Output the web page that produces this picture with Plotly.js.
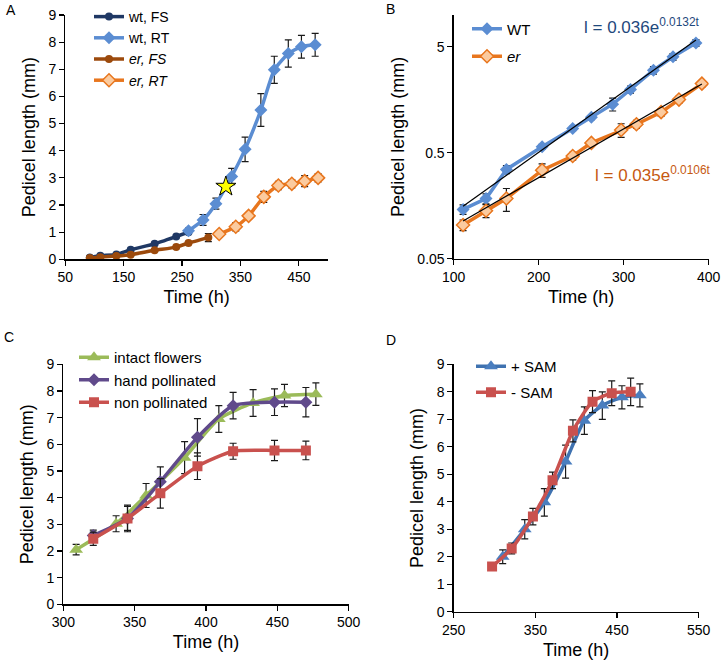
<!DOCTYPE html>
<html>
<head>
<meta charset="utf-8">
<script src="https://cdn.plot.ly/plotly-3.0.1.min.js"></script>
<style>html,body{margin:0;padding:0;background:#fff;}#chart{width:724px;height:663px;}</style>
</head>
<body>
<div id="chart"></div>
<script>
// ---------- Panel A ----------
const aWtFS_t = [92, 110, 137.5, 162, 203, 240, 261];
const aWtFS_l = [0.07, 0.13, 0.18, 0.35, 0.57, 0.84, 1.0];
const aWtRT_t = [261, 286, 308, 335, 358, 385, 408, 432, 454.5, 478];
const aWtRT_l = [1.05, 1.45, 2.05, 3.05, 4.05, 5.5, 6.98, 7.58, 7.83, 7.9];
const aWtRT_e = [0.1, 0.2, 0.2, 0.3, 0.45, 0.6, 0.5, 0.5, 0.42, 0.42];
const aErFS_t = [92, 110, 137.5, 162, 203, 240, 261, 295];
const aErFS_l = [0.05, 0.08, 0.12, 0.17, 0.33, 0.45, 0.6, 0.8];
const aErFS_e = [0, 0, 0, 0, 0, 0, 0, 0.15];
const aErRT_t = [313.6, 342, 364, 390, 415, 438, 460, 483];
const aErRT_l = [0.93, 1.2, 1.6, 2.3, 2.72, 2.78, 2.88, 3.0];
const aErRT_e = [0.08, 0.15, 0.12, 0.2, 0.15, 0.15, 0.2, 0.15];
const aStar_t = [325];
const aStar_l = [2.68];

// ---------- Panel B ----------
const bWT_t = [111, 138, 162, 204, 240, 262, 287, 308, 335, 358, 385];
const bWT_l = [0.146, 0.185, 0.348, 0.57, 0.85, 1.08, 1.44, 1.98, 3.01, 4.03, 5.45];
const bWT_e = [0.015, 0.02, 0.03, 0.03, 0.04, 0.05, 0.2, 0.15, 0.25, 0.3, 0.4];
const bEr_t = [111, 138, 162, 204, 240, 262, 297, 315, 344, 365, 392];
const bEr_l = [0.104, 0.142, 0.185, 0.343, 0.466, 0.62, 0.82, 0.93, 1.21, 1.59, 2.25];
const bEr_e = [0.012, 0.02, 0.045, 0.05, 0.04, 0.04, 0.12, 0.08, 0.1, 0.12, 0.15];
const bFitWT_t = [111, 385];
const bFitWT_l = [0.156, 5.8];
const bFitEr_t = [111, 392];
const bFitEr_l = [0.1135, 2.23];

// ---------- Panel C ----------
const cIntact_t = [309, 337, 358, 385, 409, 433, 455, 477];
const cIntact_l = [2.05, 3.02, 4.08, 5.5, 6.95, 7.55, 7.83, 7.88];
const cIntact_e = [0.2, 0.3, 0.45, 0.6, 0.5, 0.5, 0.42, 0.42];
const cHand_t = [321, 345, 368, 394, 419, 448, 470];
const cHand_l = [2.58, 3.22, 4.6, 6.26, 7.45, 7.58, 7.58];
const cHand_e = [0.2, 0.5, 0.55, 0.7, 0.5, 0.5, 0.55];
const cNon_t = [321, 345, 368, 394, 419, 448, 470];
const cNon_l = [2.46, 3.22, 4.16, 5.18, 5.74, 5.77, 5.77];
const cNon_e = [0.25, 0.45, 0.55, 0.5, 0.3, 0.38, 0.35];

// ---------- Panel D ----------
const dPlus_t = [310, 337, 361, 387, 410, 432, 456, 478];
const dPlus_l = [2.0, 3.0, 3.98, 5.46, 6.95, 7.5, 7.8, 7.87];
const dPlus_e = [0.25, 0.35, 0.5, 0.6, 0.5, 0.5, 0.42, 0.42];
const dMinus_t = [297, 321, 347, 371, 396, 420, 443.5, 466.7];
const dMinus_l = [1.64, 2.3, 3.46, 4.78, 6.58, 7.64, 7.95, 8.0];
const dMinus_e = [0.05, 0.2, 0.3, 0.3, 0.4, 0.4, 0.45, 0.5];

const FONT = 'Arial, "Liberation Sans", sans-serif';
const W = 724, H = 663;
const px = v => v / W;
const py = v => 1 - v / H;

function eb(arr) {
  return {type: 'data', array: arr, visible: true, color: '#1a1a1a', thickness: 1.2, width: 3.5};
}

const traces = [
  // A
  {x: aWtFS_t, y: aWtFS_l, name: 'wt, FS', mode: 'lines+markers', xaxis: 'x', yaxis: 'y', legend: 'legend',
   line: {color: '#1F3864', width: 3.5, shape: 'spline', smoothing: 0.5}, marker: {symbol: 'circle', size: 8, color: '#1F3864'}},
  {x: aWtRT_t, y: aWtRT_l, name: 'wt, RT', mode: 'lines+markers', xaxis: 'x', yaxis: 'y', legend: 'legend',
   error_y: eb(aWtRT_e),
   line: {color: '#5B8DD2', width: 3.5, shape: 'spline', smoothing: 0.5}, marker: {symbol: 'diamond', size: 10, color: '#5B8DD2'}},
  {x: aErFS_t, y: aErFS_l, name: '<i>er, FS</i>', mode: 'lines+markers', xaxis: 'x', yaxis: 'y', legend: 'legend',
   error_y: eb(aErFS_e),
   line: {color: '#9C4A0C', width: 3.5, shape: 'spline', smoothing: 0.5}, marker: {symbol: 'circle', size: 8, color: '#9C4A0C'}},
  {x: aErRT_t, y: aErRT_l, name: '<i>er, RT</i>', mode: 'lines+markers', xaxis: 'x', yaxis: 'y', legend: 'legend',
   error_y: eb(aErRT_e),
   line: {color: '#E8761E', width: 3.5, shape: 'spline', smoothing: 0.5}, marker: {symbol: 'diamond', size: 10, color: '#FBCB9F', line: {color: '#E8761E', width: 1.5}}},
  {x: aStar_t, y: aStar_l, mode: 'markers', xaxis: 'x', yaxis: 'y', showlegend: false,
   marker: {symbol: 'star', size: 15, color: '#FFFF00', line: {color: '#000', width: 1}}},
  // B
  {x: bWT_t, y: bWT_l, name: 'WT', mode: 'lines+markers', xaxis: 'x2', yaxis: 'y2', legend: 'legend2', legendgroup: 'b1',
   error_y: eb(bWT_e),
   line: {color: '#5B8DD2', width: 3.5}, marker: {symbol: 'diamond', size: 10, color: '#5B8DD2'}},
  {x: bEr_t, y: bEr_l, name: '<i>er</i>', mode: 'lines+markers', xaxis: 'x2', yaxis: 'y2', legend: 'legend2', legendgroup: 'b2',
   error_y: eb(bEr_e),
   line: {color: '#E8761E', width: 3.5}, marker: {symbol: 'diamond', size: 10, color: '#FBCB9F', line: {color: '#E8761E', width: 1.5}}},
  {x: bFitWT_t, y: bFitWT_l, mode: 'lines', xaxis: 'x2', yaxis: 'y2', showlegend: false,
   line: {color: '#000', width: 1.2}},
  {x: bFitEr_t, y: bFitEr_l, mode: 'lines', xaxis: 'x2', yaxis: 'y2', showlegend: false,
   line: {color: '#000', width: 1.2}},
  // C
  {x: cIntact_t, y: cIntact_l, name: 'intact flowers', mode: 'lines+markers', xaxis: 'x3', yaxis: 'y3', legend: 'legend3', legendgroup: 'c1',
   error_y: eb(cIntact_e),
   line: {color: '#9BBB59', width: 3.5, shape: 'spline', smoothing: 0.6}, marker: {symbol: 'triangle-up', size: 12, color: '#9BBB59'}},
  {x: cHand_t, y: cHand_l, name: 'hand pollinated', mode: 'lines+markers', xaxis: 'x3', yaxis: 'y3', legend: 'legend3', legendgroup: 'c2',
   error_y: eb(cHand_e),
   line: {color: '#604A8B', width: 3.5, shape: 'spline', smoothing: 0.6}, marker: {symbol: 'diamond', size: 10, color: '#604A8B'}},
  {x: cNon_t, y: cNon_l, name: 'non pollinated', mode: 'lines+markers', xaxis: 'x3', yaxis: 'y3', legend: 'legend3', legendgroup: 'c3',
   error_y: eb(cNon_e),
   line: {color: '#C9514E', width: 3.5, shape: 'spline', smoothing: 0.6}, marker: {symbol: 'square', size: 10, color: '#C9514E'}},
  // D
  {x: dPlus_t, y: dPlus_l, name: '+ SAM', mode: 'lines+markers', xaxis: 'x4', yaxis: 'y4', legend: 'legend4', legendgroup: 'd1',
   error_y: eb(dPlus_e),
   line: {color: '#3F72B0', width: 3.5, shape: 'spline', smoothing: 0.6}, marker: {symbol: 'triangle-up', size: 12, color: '#4A7EBF'}},
  {x: dMinus_t, y: dMinus_l, name: '- SAM', mode: 'lines+markers', xaxis: 'x4', yaxis: 'y4', legend: 'legend4', legendgroup: 'd2',
   error_y: eb(dMinus_e),
   line: {color: '#C9514E', width: 3.5, shape: 'spline', smoothing: 0.6}, marker: {symbol: 'square', size: 10, color: '#C9514E'}}
];

function ax(extra) {
  return Object.assign({
    showline: true, linecolor: '#000', linewidth: 1.3, ticks: 'outside', ticklen: 5, tickcolor: '#000', tickwidth: 1.2,
    showgrid: false, zeroline: false, tickfont: {family: FONT, size: 14, color: '#000'}, fixedrange: true
  }, extra);
}
function ttl(t, s) { return {text: t, font: {family: FONT, size: 18, color: '#000'}, standoff: s}; }

function leg(x, y, gap, fs) {
  return {x: px(x), y: py(y), xanchor: 'left', yanchor: 'top', bgcolor: 'rgba(0,0,0,0)',
          font: {family: FONT, size: fs, color: '#000'}, tracegroupgap: gap, traceorder: 'grouped', itemwidth: 30};
}

const layout = {
  width: W, height: H, margin: {l: 0, r: 0, t: 0, b: 0},
  paper_bgcolor: '#fff', plot_bgcolor: '#fff', showlegend: true,
  font: {family: FONT, color: '#000'},
  xaxis: ax({domain: [px(65.3), px(328)], anchor: 'y', range: [50, 500], tick0: 50, dtick: 100, title: ttl('Time (h)', 6)}),
  yaxis: ax({domain: [py(259.3), py(15)], anchor: 'x', range: [0, 9], dtick: 1, title: ttl('Pedicel length (mm)', 8)}),
  xaxis2: ax({domain: [px(453.7), px(708.7)], anchor: 'y2', range: [100, 400], dtick: 100, title: ttl('Time (h)', 6)}),
  yaxis2: ax({domain: [py(258.7), py(15)], anchor: 'x2', type: 'log', range: [Math.log10(0.05), 1],
             tickvals: [0.05, 0.5, 5], ticktext: ['0.05', '0.5', '5'], title: ttl('Pedicel length (mm)', 8)}),
  xaxis3: ax({domain: [px(63.3), px(348.7)], anchor: 'y3', range: [300, 500], dtick: 50, title: ttl('Time (h)', 6)}),
  yaxis3: ax({domain: [py(604.3), py(364.3)], anchor: 'x3', range: [0, 9], dtick: 1, title: ttl('Pedicel length (mm)', 8)}),
  xaxis4: ax({domain: [px(453.7), px(698.7)], anchor: 'y4', range: [250, 550], tick0: 250, dtick: 100, title: ttl('Time (h)', 6)}),
  yaxis4: ax({domain: [py(611.7), py(364.3)], anchor: 'x4', range: [0, 9], dtick: 1, title: ttl('Pedicel length (mm)', 8)}),
  legend: leg(89, 1, 0, 14),
  legend2: leg(467, 12.5, 5, 15),
  legend3: leg(74, 341, 0, 15),
  legend4: leg(471, 350, 3.5, 15),
  annotations: [
    {text: 'A', xref: 'paper', yref: 'paper', x: px(4), y: py(10), xanchor: 'left', yanchor: 'middle', showarrow: false, font: {family: FONT, size: 14, color: '#000'}},
    {text: 'B', xref: 'paper', yref: 'paper', x: px(384), y: py(9), xanchor: 'left', yanchor: 'middle', showarrow: false, font: {family: FONT, size: 14, color: '#000'}},
    {text: 'C', xref: 'paper', yref: 'paper', x: px(2), y: py(337), xanchor: 'left', yanchor: 'middle', showarrow: false, font: {family: FONT, size: 14, color: '#000'}},
    {text: 'D', xref: 'paper', yref: 'paper', x: px(384), y: py(340), xanchor: 'left', yanchor: 'middle', showarrow: false, font: {family: FONT, size: 14, color: '#000'}},
    {text: 'l = 0.036e<sup>0.0132t</sup>', xref: 'paper', yref: 'paper', x: px(582), y: py(26), xanchor: 'left', yanchor: 'middle', showarrow: false, font: {family: FONT, size: 17, color: '#1F497D'}},
    {text: 'l = 0.035e<sup>0.0106t</sup>', xref: 'paper', yref: 'paper', x: px(593), y: py(174), xanchor: 'left', yanchor: 'middle', showarrow: false, font: {family: FONT, size: 17, color: '#C65911'}}
  ]
};

Plotly.newPlot('chart', traces, layout, {displayModeBar: false, staticPlot: true});
</script>
</body>
</html>
